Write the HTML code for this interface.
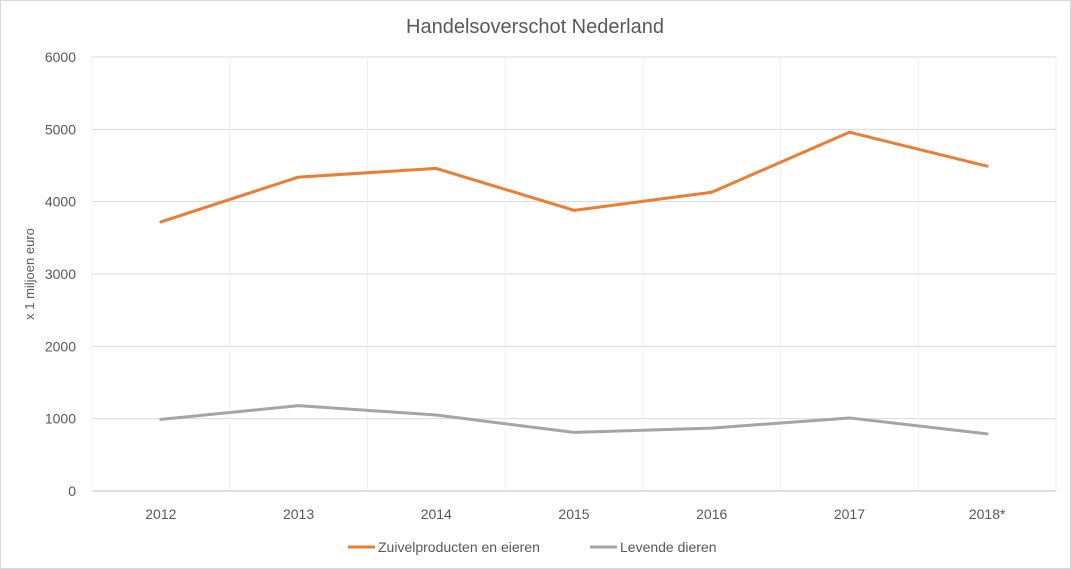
<!DOCTYPE html>
<html><head><meta charset="utf-8"><style>
body{margin:0;background:#fff;}
svg{display:block;font-family:"Liberation Sans",Calibri,sans-serif;}
</style></head><body>
<svg id="chart" width="1071" height="569">
<rect x="0.5" y="0.5" width="1070" height="568" fill="#fff" stroke="#d9d9d9"/>
<text x="535" y="33" text-anchor="middle" font-size="20" fill="#595959">Handelsoverschot Nederland</text>
<text transform="translate(34,274) rotate(-90)" text-anchor="middle" font-size="13" fill="#595959">x 1 miljoen euro</text>
<g id="grid"></g><g id="axes"></g><g id="series"></g>
<g>
<line x1="348" y1="547" x2="375" y2="547" stroke="#ed7d31" stroke-width="3"/>
<text x="378" y="552" font-size="14" fill="#595959">Zuivelproducten en eieren</text>
<line x1="590" y1="547" x2="617" y2="547" stroke="#a5a5a5" stroke-width="3"/>
<text x="620" y="552" font-size="14" fill="#595959">Levende dieren</text>
</g>
</svg>
<script>
const categories=["2012","2013","2014","2015","2016","2017","2018*"];
const zuivel=[3720,4340,4460,3880,4130,4960,4490];
const levende=[990,1180,1050,810,870,1010,790];
const yTicks=[0,1000,2000,3000,4000,5000,6000];
const X0=92,X1=1056,Y0=491,Y1=57,YMAX=6000;
const bw=(X1-X0)/categories.length;
const x=i=>X0+bw*(i+0.5);
const y=v=>Y0-(v/YMAX)*(Y0-Y1);
const NS="http://www.w3.org/2000/svg";
const mk=(p,t,a)=>{const e=document.createElementNS(NS,t);for(const k in a)e.setAttribute(k,a[k]);p.appendChild(e);return e;};
const grid=document.getElementById('grid'),axes=document.getElementById('axes'),ser=document.getElementById('series');
yTicks.forEach(v=>{
 const l=mk(grid,'line',{x1:X0,x2:X1,y1:y(v),y2:y(v),stroke:v===0?'#bfbfbf':'#d9d9d9'});
 
 
 const t=mk(axes,'text',{x:76,y:y(v)+5,'text-anchor':'end','font-size':14,fill:'#595959'});t.textContent=v;
 
 
});
for(let i=0;i<=categories.length;i++){
 const l=mk(grid,'line',{x1:X0+bw*i,x2:X0+bw*i,y1:Y1,y2:Y0,stroke:'#efefef'});
 
 
}
categories.forEach((c,i)=>{
 const t=mk(axes,'text',{x:x(i),y:519,'text-anchor':'middle','font-size':14,fill:'#595959'});t.textContent=c;
 
 
});
function line(vals,color,name){
 const p=mk(ser,'polyline',{points:vals.map((v,i)=>x(i)+','+y(v)).join(' '),fill:'none',stroke:color,'stroke-width':3,'stroke-linejoin':'round','stroke-linecap':'round'});
 
 
}
line(zuivel,'#ed7d31','line-zuivelproducten');
line(levende,'#a5a5a5','line-levende-dieren');
</script>
</body></html>
